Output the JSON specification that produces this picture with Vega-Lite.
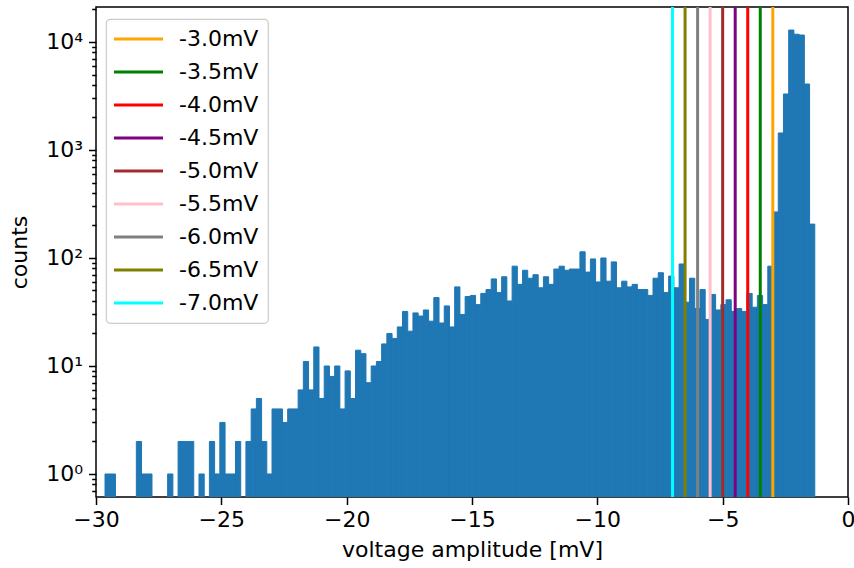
{
  "$schema": "https://vega.github.io/schema/vega-lite/v6.json",
  "width": 752,
  "height": 490,
  "autosize": {"type": "none"},
  "padding": {"left": 96, "top": 7, "right": 6, "bottom": 71},
  "background": "white",
  "config": {
    "font": "DejaVu Sans",
    "view": {"stroke": "#000000", "strokeWidth": 1.5},
    "axis": {
      "domain": false,
      "grid": false,
      "tickColor": "#000000",
      "tickWidth": 1.5,
      "labelColor": "#000000",
      "labelFont": "DejaVu Sans",
      "labelFontSize": 22,
      "titleFont": "DejaVu Sans",
      "titleFontSize": 22,
      "titleFontWeight": "normal",
      "titleColor": "#000000",
      "labelOverlap": false,
      "labelFlush": false,
      "labelBound": false
    },
    "legend": {
      "orient": "none",
      "legendX": 10,
      "legendY": 12,
      "symbolType": "M-2.4,0H7.4",
      "symbolSize": 100,
      "symbolStrokeWidth": 3,
      "symbolOpacity": 1,
      "labelFont": "DejaVu Sans",
      "labelFontSize": 22,
      "labelColor": "#000000",
      "labelOffset": 42,
      "rowPadding": 11,
      "padding": 9,
      "fillColor": "rgba(255,255,255,0.8)",
      "strokeColor": "#cccccc",
      "strokeWidth": 1.2,
      "cornerRadius": 4
    }
  },
  "datasets": {
    "hist": [
      {"lo": -29.640, "hi": -29.432, "n": 1},
      {"lo": -29.432, "hi": -29.224, "n": 1},
      {"lo": -28.391, "hi": -28.183, "n": 2},
      {"lo": -28.183, "hi": -27.974, "n": 1},
      {"lo": -27.974, "hi": -27.766, "n": 1},
      {"lo": -27.142, "hi": -26.933, "n": 1},
      {"lo": -26.725, "hi": -26.517, "n": 2},
      {"lo": -26.517, "hi": -26.309, "n": 2},
      {"lo": -26.309, "hi": -26.101, "n": 2},
      {"lo": -25.892, "hi": -25.684, "n": 1},
      {"lo": -25.476, "hi": -25.268, "n": 2},
      {"lo": -25.268, "hi": -25.060, "n": 1},
      {"lo": -25.060, "hi": -24.851, "n": 3},
      {"lo": -24.851, "hi": -24.643, "n": 1},
      {"lo": -24.643, "hi": -24.435, "n": 1},
      {"lo": -24.435, "hi": -24.227, "n": 2},
      {"lo": -24.019, "hi": -23.810, "n": 2},
      {"lo": -23.810, "hi": -23.602, "n": 4},
      {"lo": -23.602, "hi": -23.394, "n": 5},
      {"lo": -23.394, "hi": -23.186, "n": 2},
      {"lo": -23.186, "hi": -22.978, "n": 1},
      {"lo": -22.978, "hi": -22.769, "n": 4},
      {"lo": -22.769, "hi": -22.561, "n": 4},
      {"lo": -22.561, "hi": -22.353, "n": 3},
      {"lo": -22.353, "hi": -22.145, "n": 4},
      {"lo": -22.145, "hi": -21.937, "n": 4},
      {"lo": -21.937, "hi": -21.728, "n": 6},
      {"lo": -21.728, "hi": -21.520, "n": 11},
      {"lo": -21.520, "hi": -21.312, "n": 6},
      {"lo": -21.312, "hi": -21.104, "n": 15},
      {"lo": -21.104, "hi": -20.896, "n": 5},
      {"lo": -20.896, "hi": -20.687, "n": 10},
      {"lo": -20.687, "hi": -20.479, "n": 8},
      {"lo": -20.479, "hi": -20.271, "n": 10},
      {"lo": -20.271, "hi": -20.063, "n": 4},
      {"lo": -20.063, "hi": -19.855, "n": 9},
      {"lo": -19.855, "hi": -19.646, "n": 5},
      {"lo": -19.646, "hi": -19.438, "n": 14},
      {"lo": -19.438, "hi": -19.230, "n": 13},
      {"lo": -19.230, "hi": -19.022, "n": 7},
      {"lo": -19.022, "hi": -18.814, "n": 10},
      {"lo": -18.814, "hi": -18.605, "n": 11},
      {"lo": -18.605, "hi": -18.397, "n": 16},
      {"lo": -18.397, "hi": -18.189, "n": 20},
      {"lo": -18.189, "hi": -17.981, "n": 18},
      {"lo": -17.981, "hi": -17.773, "n": 23},
      {"lo": -17.773, "hi": -17.564, "n": 32},
      {"lo": -17.564, "hi": -17.356, "n": 21},
      {"lo": -17.356, "hi": -17.148, "n": 31},
      {"lo": -17.148, "hi": -16.940, "n": 29},
      {"lo": -16.940, "hi": -16.732, "n": 33},
      {"lo": -16.732, "hi": -16.523, "n": 26},
      {"lo": -16.523, "hi": -16.315, "n": 43},
      {"lo": -16.315, "hi": -16.107, "n": 25},
      {"lo": -16.107, "hi": -15.899, "n": 36},
      {"lo": -15.899, "hi": -15.691, "n": 23},
      {"lo": -15.691, "hi": -15.482, "n": 54},
      {"lo": -15.482, "hi": -15.274, "n": 30},
      {"lo": -15.274, "hi": -15.066, "n": 44},
      {"lo": -15.066, "hi": -14.858, "n": 45},
      {"lo": -14.858, "hi": -14.650, "n": 37},
      {"lo": -14.650, "hi": -14.441, "n": 47},
      {"lo": -14.441, "hi": -14.233, "n": 51},
      {"lo": -14.233, "hi": -14.025, "n": 64},
      {"lo": -14.025, "hi": -13.817, "n": 48},
      {"lo": -13.817, "hi": -13.609, "n": 67},
      {"lo": -13.609, "hi": -13.400, "n": 40},
      {"lo": -13.400, "hi": -13.192, "n": 84},
      {"lo": -13.192, "hi": -12.984, "n": 57},
      {"lo": -12.984, "hi": -12.776, "n": 77},
      {"lo": -12.776, "hi": -12.568, "n": 65},
      {"lo": -12.568, "hi": -12.359, "n": 70},
      {"lo": -12.359, "hi": -12.151, "n": 53},
      {"lo": -12.151, "hi": -11.943, "n": 67},
      {"lo": -11.943, "hi": -11.735, "n": 57},
      {"lo": -11.735, "hi": -11.527, "n": 79},
      {"lo": -11.527, "hi": -11.318, "n": 84},
      {"lo": -11.318, "hi": -11.110, "n": 77},
      {"lo": -11.110, "hi": -10.902, "n": 79},
      {"lo": -10.902, "hi": -10.694, "n": 79},
      {"lo": -10.694, "hi": -10.486, "n": 114},
      {"lo": -10.486, "hi": -10.277, "n": 74},
      {"lo": -10.277, "hi": -10.069, "n": 98},
      {"lo": -10.069, "hi": -9.861, "n": 60},
      {"lo": -9.861, "hi": -9.653, "n": 100},
      {"lo": -9.653, "hi": -9.445, "n": 61},
      {"lo": -9.445, "hi": -9.236, "n": 92},
      {"lo": -9.236, "hi": -9.028, "n": 53},
      {"lo": -9.028, "hi": -8.820, "n": 61},
      {"lo": -8.820, "hi": -8.612, "n": 54},
      {"lo": -8.612, "hi": -8.404, "n": 57},
      {"lo": -8.404, "hi": -8.195, "n": 51},
      {"lo": -8.195, "hi": -7.987, "n": 51},
      {"lo": -7.987, "hi": -7.779, "n": 45},
      {"lo": -7.779, "hi": -7.571, "n": 65},
      {"lo": -7.571, "hi": -7.363, "n": 73},
      {"lo": -7.363, "hi": -7.154, "n": 48},
      {"lo": -7.154, "hi": -6.946, "n": 68},
      {"lo": -6.946, "hi": -6.738, "n": 53},
      {"lo": -6.738, "hi": -6.530, "n": 88},
      {"lo": -6.530, "hi": -6.322, "n": 39},
      {"lo": -6.322, "hi": -6.113, "n": 65},
      {"lo": -6.113, "hi": -5.905, "n": 34},
      {"lo": -5.905, "hi": -5.697, "n": 51},
      {"lo": -5.697, "hi": -5.489, "n": 27},
      {"lo": -5.489, "hi": -5.281, "n": 46},
      {"lo": -5.281, "hi": -5.072, "n": 33},
      {"lo": -5.072, "hi": -4.864, "n": 37},
      {"lo": -4.864, "hi": -4.656, "n": 41},
      {"lo": -4.656, "hi": -4.448, "n": 32},
      {"lo": -4.448, "hi": -4.240, "n": 34},
      {"lo": -4.240, "hi": -4.031, "n": 32},
      {"lo": -4.031, "hi": -3.823, "n": 47},
      {"lo": -3.823, "hi": -3.615, "n": 35},
      {"lo": -3.615, "hi": -3.407, "n": 45},
      {"lo": -3.407, "hi": -3.199, "n": 37},
      {"lo": -3.199, "hi": -2.990, "n": 84},
      {"lo": -2.990, "hi": -2.782, "n": 267},
      {"lo": -2.782, "hi": -2.574, "n": 1437},
      {"lo": -2.574, "hi": -2.366, "n": 3300},
      {"lo": -2.366, "hi": -2.158, "n": 12900},
      {"lo": -2.158, "hi": -1.949, "n": 11800},
      {"lo": -1.949, "hi": -1.741, "n": 11600},
      {"lo": -1.741, "hi": -1.533, "n": 4080},
      {"lo": -1.533, "hi": -1.325, "n": 206}
    ],
    "thresholds": [
      {"t": -3.0, "label": "-3.0mV"},
      {"t": -3.5, "label": "-3.5mV"},
      {"t": -4.0, "label": "-4.0mV"},
      {"t": -4.5, "label": "-4.5mV"},
      {"t": -5.0, "label": "-5.0mV"},
      {"t": -5.5, "label": "-5.5mV"},
      {"t": -6.0, "label": "-6.0mV"},
      {"t": -6.5, "label": "-6.5mV"},
      {"t": -7.0, "label": "-7.0mV"}
    ]
  },
  "layer": [
    {
      "data": {"name": "hist"},
      "mark": {"type": "bar", "color": "#1f77b4", "stroke": "#1f77b4", "strokeWidth": 1, "clip": true},
      "encoding": {
        "x": {
          "field": "lo",
          "type": "quantitative",
          "title": "voltage amplitude [mV]",
          "scale": {"domain": [-30, 0], "nice": false, "zero": false},
          "axis": {
            "values": [-30, -25, -20, -15, -10, -5, 0],
            "format": "d",
            "tickSize": 7.5,
            "labelPadding": 5,
            "titlePadding": 9
          }
        },
        "x2": {"field": "hi"},
        "y": {
          "field": "n",
          "type": "quantitative",
          "title": "counts",
          "scale": {"type": "log", "domain": [0.612, 21090], "nice": false},
          "axis": {
            "values": [0.7, 0.8, 0.9, 1, 2, 3, 4, 5, 6, 7, 8, 9, 10, 20, 30, 40, 50, 60, 70, 80, 90, 100, 200, 300, 400, 500, 600, 700, 800, 900, 1000, 2000, 3000, 4000, 5000, 6000, 7000, 8000, 9000, 10000, 20000],
            "labelExpr": "datum.value === 1 ? '10⁰' : datum.value === 10 ? '10¹' : datum.value === 100 ? '10²' : datum.value === 1000 ? '10³' : datum.value === 10000 ? '10⁴' : ''",
            "tickSize": {"condition": {"test": "datum.value === 1 || datum.value === 10 || datum.value === 100 || datum.value === 1000 || datum.value === 10000", "value": 7.5}, "value": 4.3},
            "labelPadding": 6,
            "titlePadding": 14
          }
        },
        "y2": {"datum": 0.612}
      }
    },
    {
      "data": {"name": "thresholds"},
      "mark": {"type": "rule", "strokeWidth": 3},
      "encoding": {
        "x": {"field": "t", "type": "quantitative"},
        "color": {
          "field": "label",
          "type": "nominal",
          "title": null,
          "scale": {
            "domain": ["-3.0mV", "-3.5mV", "-4.0mV", "-4.5mV", "-5.0mV", "-5.5mV", "-6.0mV", "-6.5mV", "-7.0mV"],
            "range": ["#ffa500", "#008000", "#ff0000", "#800080", "#a52a2a", "#ffc0cb", "#808080", "#808000", "#00ffff"]
          }
        }
      }
    }
  ]
}
